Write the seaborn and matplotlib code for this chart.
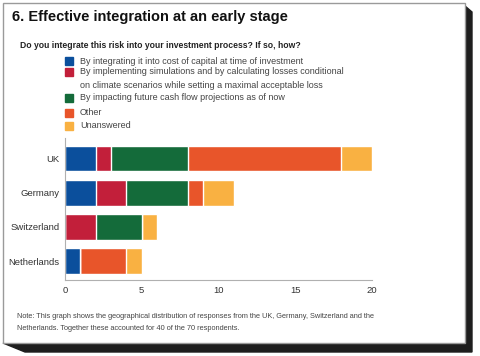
import seaborn as sns
import pandas as pd
import matplotlib.pyplot as plt
import numpy as np
from matplotlib.patches import Rectangle, Polygon

countries = ["UK", "Germany", "Switzerland", "Netherlands"]
categories = [
    "By integrating it into cost of capital at time of investment",
    "By implementing simulations and by calculating losses conditional\non climate scenarios while setting a maximal acceptable loss",
    "By impacting future cash flow projections as of now",
    "Other",
    "Unanswered",
]
cost_of_capital = [2, 2, 0, 1]
simulations = [1, 2, 2, 0]
cash_flow = [5, 4, 3, 0]
other = [10, 1, 0, 3]
unanswered = [2, 2, 1, 1]

COLORS = ["#0b4f9c", "#c21f3a", "#146b3a", "#e8552a", "#f9b142"]
FONT = ["Liberation Sans Narrow", "Liberation Sans", "DejaVu Sans"]

sns.set_style("white")
plt.rcParams["font.family"] = FONT

series = [cost_of_capital, simulations, cash_flow, other, unanswered]
df = pd.DataFrame(np.array(series).T, columns=categories)
df["country"] = countries
cum = df[categories].cumsum(axis=1)

fig = plt.figure(figsize=(4.8, 3.56), dpi=100)

# card frame with shadow (pixel coords from top-left)
W, H = 480, 356
def fx(x):
    return x / W
def fy(y):
    return 1 - y / H
shadow = Polygon([(fx(465), fy(6)), (fx(472), fy(12)), (fx(472), fy(352)),
                  (fx(25), fy(352)), (fx(3), fy(343)), (fx(465), fy(343))],
                 closed=True, transform=fig.transFigure, color="#1e1e1e", zorder=0)
fig.patches.append(shadow)
card = Rectangle((fx(3), fy(343)), fx(465) - fx(3), fy(3) - fy(343),
                 transform=fig.transFigure, facecolor="white", edgecolor="#9a9a9a",
                 linewidth=1, zorder=0.5)
fig.patches.append(card)

ax = fig.add_axes([fx(65), fy(280), fx(372) - fx(65), fy(138) - fy(280)])
ax.set_zorder(5)
for i in range(len(categories) - 1, -1, -1):
    sns.barplot(x=cum[categories[i]], y=df["country"], orient="h", color=COLORS[i],
                width=0.75, saturation=1, ax=ax, zorder=2)

ax.set_xlim(0, 20)
ax.set_ylim(3.55, -0.6)
ax.set_xticks([0, 5, 10, 15, 20])
ax.set_xlabel("")
ax.set_ylabel("")
ax.tick_params(axis="both", labelsize=6.8, colors="#333333", length=0, pad=4)
sns.despine(ax=ax, top=True, right=True)
ax.spines["left"].set_color("#b0b0b0")
ax.spines["bottom"].set_color("#b0b0b0")
ax.spines["left"].set_linewidth(0.8)
ax.spines["bottom"].set_linewidth(0.8)
ax.patch.set_alpha(0)

fig.text(fx(12), fy(17), "6. Effective integration at an early stage",
         fontsize=10.5, fontweight="bold", color="#111111", va="center", zorder=6)
fig.text(fx(20), fy(45), "Do you integrate this risk into your investment process? If so, how?",
         fontsize=6.2, fontweight="bold", color="#222222", va="center", zorder=6)

legend_y = [61, 72, 98, 113, 126]
for i, cat in enumerate(categories):
    y = legend_y[i]
    fig.patches.append(Rectangle((fx(65), fy(y + 4)), fx(8), fy(0) - fy(8),
                                 transform=fig.transFigure, color=COLORS[i], zorder=6))
    for j, line in enumerate(cat.split("\n")):
        fig.text(fx(80), fy(y + 13 * j), line, fontsize=6.5, color="#444444",
                 va="center", zorder=6)

fig.text(fx(17), fy(323),
         "Note: This graph shows the geographical distribution of responses from the UK, Germany, Switzerland and the\nNetherlands. Together these accounted for 40 of the 70 respondents.",
         fontsize=5.3, color="#444444", va="center", linespacing=2.0, zorder=6)

fig.savefig("out.png", dpi=100)
